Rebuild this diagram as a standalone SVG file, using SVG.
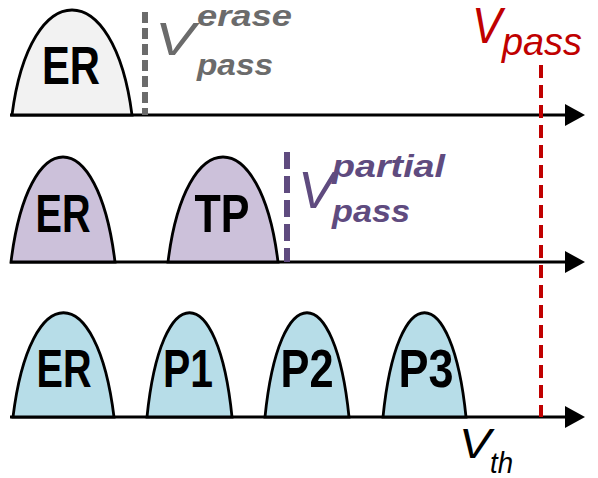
<svg xmlns="http://www.w3.org/2000/svg" width="598" height="478" viewBox="0 0 598 478">
<style>
.ax{stroke:#000;stroke-width:3;fill:none}
.bump{stroke:#000;stroke-width:2.8}
.r1{fill:#f2f2f2}.r2{fill:#ccc1da}.r3{fill:#b7dde8}
.lbl{font-family:"Liberation Sans",Arial,sans-serif;font-weight:bold;font-size:54px;fill:#000;text-anchor:middle}
.it{font-family:"Liberation Sans",Arial,sans-serif;font-style:italic}
</style>
<rect width="598" height="478" fill="#fff"/>
<g id="connectors">
<path d="M10,115 H566" class="ax"/>
<path d="M565,104 L585,115 L565,126 z" fill="#000"/>
<path d="M10,262 H566" class="ax"/>
<path d="M565,251 L585,262 L565,273 z" fill="#000"/>
<path d="M10,417 H566" class="ax"/>
<path d="M565,406 L585,417 L565,428 z" fill="#000"/>
</g>
<g id="er1">
<path class="bump r1" d="M12,115 C30,-25 114,-25 132,115 z"/>
<text class="lbl" x="71" y="84" textLength="58" lengthAdjust="spacingAndGlyphs">ER</text>
</g>
<g id="vpass-erase">
<path d="M145,12 V115" stroke="#6b6b6b" stroke-width="6" stroke-dasharray="11 5"/>
<text class="it" x="155" y="55" font-size="46" fill="#6b6b6b" textLength="40" lengthAdjust="spacingAndGlyphs">V</text>
<text class="it" x="197" y="26" font-size="30" font-weight="bold" fill="#6b6b6b" textLength="95" lengthAdjust="spacingAndGlyphs">erase</text>
<text class="it" x="197" y="75" font-size="30" font-weight="bold" fill="#6b6b6b" textLength="76" lengthAdjust="spacingAndGlyphs">pass</text>
</g>
<g id="vpass">
<path d="M541,65 V417" stroke="#c00000" stroke-width="4" stroke-dasharray="13 7"/>
<text class="it" x="472" y="43" font-size="50" fill="#c00000" textLength="30" lengthAdjust="spacingAndGlyphs">V</text>
<text class="it" x="502" y="55" font-size="38" fill="#c00000" textLength="80" lengthAdjust="spacingAndGlyphs">pass</text>
</g>
<g id="er2">
<path class="bump r2" d="M11,262 C28,122 98,122 115,262 z"/>
<text class="lbl" x="63" y="232" textLength="55" lengthAdjust="spacingAndGlyphs">ER</text>
</g>
<g id="tp">
<path class="bump r2" d="M168,262 C185,122 261,122 278,262 z"/>
<text class="lbl" x="222" y="232" textLength="55" lengthAdjust="spacingAndGlyphs">TP</text>
</g>
<g id="vpass-partial">
<path d="M287,152 V262" stroke="#5f4b7f" stroke-width="6" stroke-dasharray="17 7"/>
<text class="it" x="298" y="208" font-size="52" fill="#5f4b7f" textLength="36" lengthAdjust="spacingAndGlyphs">V</text>
<text class="it" x="332" y="177" font-size="31" font-weight="bold" fill="#5f4b7f" textLength="113" lengthAdjust="spacingAndGlyphs">partial</text>
<text class="it" x="332" y="222" font-size="31" font-weight="bold" fill="#5f4b7f" textLength="78" lengthAdjust="spacingAndGlyphs">pass</text>
</g>
<g id="er3">
<path class="bump r3" d="M13,417 C30,278 97,278 114,417 z"/>
<text class="lbl" x="64" y="387" textLength="55" lengthAdjust="spacingAndGlyphs">ER</text>
</g>
<g id="p1">
<path class="bump r3" d="M147,417 C161,278 218,278 232,417 z"/>
<text class="lbl" x="188" y="387" textLength="50" lengthAdjust="spacingAndGlyphs">P1</text>
</g>
<g id="p2">
<path class="bump r3" d="M265,417 C279,278 335,278 349,417 z"/>
<text class="lbl" x="307" y="387" textLength="53" lengthAdjust="spacingAndGlyphs">P2</text>
</g>
<g id="p3">
<path class="bump r3" d="M383,417 C397,278 452,278 466,417 z"/>
<text class="lbl" x="426" y="387" textLength="55" lengthAdjust="spacingAndGlyphs">P3</text>
</g>
<g id="vth">
<text class="it" x="459" y="458" font-size="43" fill="#000" textLength="32" lengthAdjust="spacingAndGlyphs">V</text>
<text class="it" x="490" y="473" font-size="30" fill="#000" textLength="23" lengthAdjust="spacingAndGlyphs">th</text>
</g>
</svg>
